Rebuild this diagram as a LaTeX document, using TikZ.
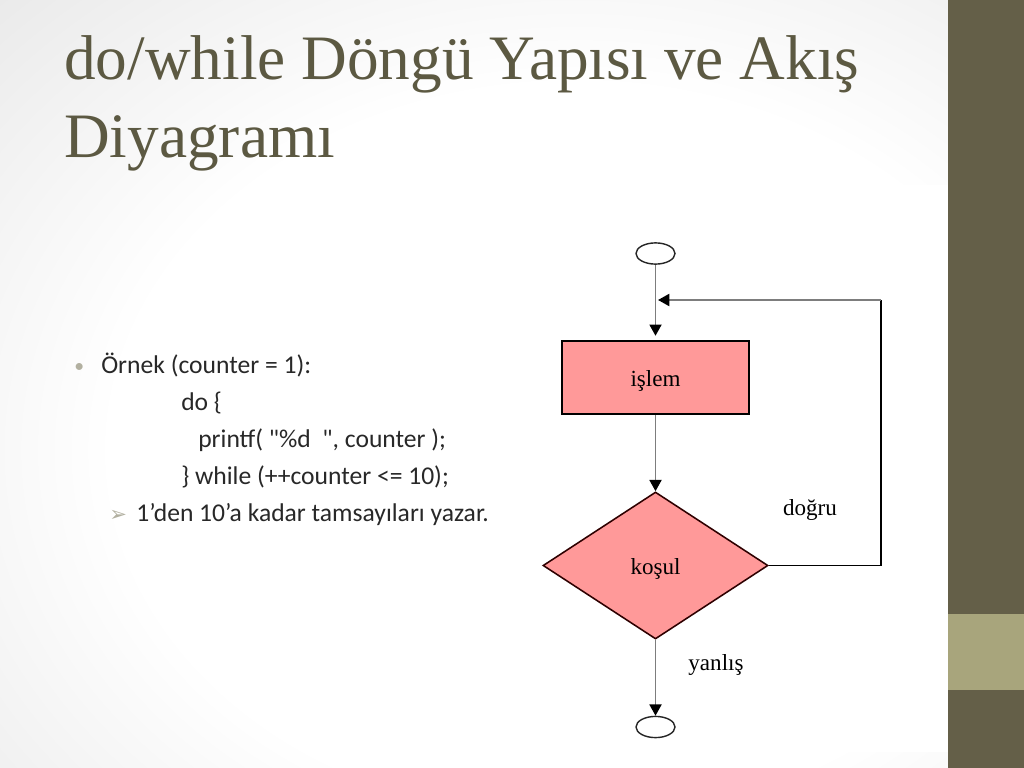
\documentclass[tikz,border=0pt]{standalone}
\usepackage{fontspec}
\setmainfont{Liberation Serif}
\newfontfamily\govdefont{Carlito}
\newfontfamily\simgefont{DejaVu Sans}
\usepackage{tikz}
\usetikzlibrary{shapes.geometric,arrows.meta,positioning}

\definecolor{zeytin}{RGB}{100,95,72}
\definecolor{acikzeytin}{RGB}{168,165,124}
\definecolor{baslikrengi}{RGB}{92,89,66}
\definecolor{pembe}{RGB}{255,153,153}
\definecolor{yazirengi}{RGB}{40,40,40}
\definecolor{cizgirengi}{RGB}{125,125,125}
\definecolor{imrengi}{RGB}{178,176,160}
\pgfdeclareradialshading{arkaplan}{\pgfpoint{0bp}{0bp}}{color(0bp)=(white); color(14bp)=(white); color(25bp)=(gray!17); color(50bp)=(gray!17)}

\begin{document}
\begin{tikzpicture}[x=0.025cm,y=-0.025cm,
    baslik/.style={anchor=base west,inner sep=0pt,text=baslikrengi,font=\fontsize{45}{45}\selectfont},
    satir/.style={anchor=base west,inner sep=0pt,text=yazirengi,font=\govdefont\fontsize{18.2}{18}\selectfont},
    etiket/.style={inner sep=0pt,text=black,font=\fontsize{16.4}{16}\selectfont},
    uc/.style={ellipse,draw=black!85,line width=1pt,minimum width=0.975cm,minimum height=0.53cm,inner sep=0pt},
    akis/.style={draw=cizgirengi,line width=1.4pt,-{Triangle[length=8pt,width=8.5pt,color=black]}}]
    \useasboundingbox (0,0) rectangle (1024,768);
    % arka plan
    \begin{scope}
        \clip (0,0) rectangle (948,768);
        \shade[shading=arkaplan] (-250,-200) rectangle (1400,1100);
    \end{scope}
    \fill[white] (520,185) rectangle (948,752);
    \fill[zeytin] (948,0) rectangle (1024,768);
    \fill[acikzeytin] (948,614) rectangle (1024,690);

    % baslik
    \node[baslik] (baslik1) at (64,80) {do/while Döngü Yapısı ve Akış};
    \node[baslik] (baslik2) at (64,158) {Diyagramı};

    % metin
    \node[anchor=base west,inner sep=0pt,text=imrengi,font=\govdefont\fontsize{14}{14}\selectfont] (madde) at (74,372) {•};
    \node[satir] (ornek) at (101,373) {Örnek (counter = 1):};
    \node[satir] (satir1) at (181,410) {do \{};
    \node[satir] (satir2) at (198,447) {printf( "\%d~~", counter );};
    \node[satir] (satir3) at (181,484) {\} while (++counter <= 10);};
    \node[anchor=base west,inner sep=0pt,text=imrengi,font=\simgefont\fontsize{15}{15}\selectfont] (ok) at (109,521) {➢};
    \node[satir] (sonuc) at (136,521) {1’den 10’a kadar tamsayıları yazar.};

    % akis diyagrami
    \node[uc] (basla) at (655.5,253.5) {};
    \node[draw=black,line width=1.4pt,fill=pembe,minimum width=4.675cm,minimum height=1.825cm,etiket] (islem) at (655.5,377.5) {\raisebox{-6.5pt}[0pt][0pt]{işlem}};
    \node[diamond,draw=black!70!red!60!black,line width=1.1pt,fill=pembe,minimum width=5.625cm,minimum height=3.675cm,etiket] (kosul) at (655.5,565.5) {\raisebox{-6.5pt}[0pt][0pt]{koşul}};
    \node[uc] (bitir) at (655.5,727) {};
    \coordinate (donus) at (881,300);
    \coordinate (birlesim) at (658,300);

    \draw[akis,shorten >=3pt] (basla) -- (islem);
    \draw[akis] (islem) -- (kosul);
    \draw[akis] (kosul) -- (bitir);
    \draw[black,line width=1.4pt] (kosul.east) -| (donus);
    \draw[akis] (donus) -- (birlesim);

    \node[etiket] (dogru) at (810,510) {doğru};
    \node[etiket] (yanlis) at (716,665) {yanlış};
\end{tikzpicture}
\end{document}
